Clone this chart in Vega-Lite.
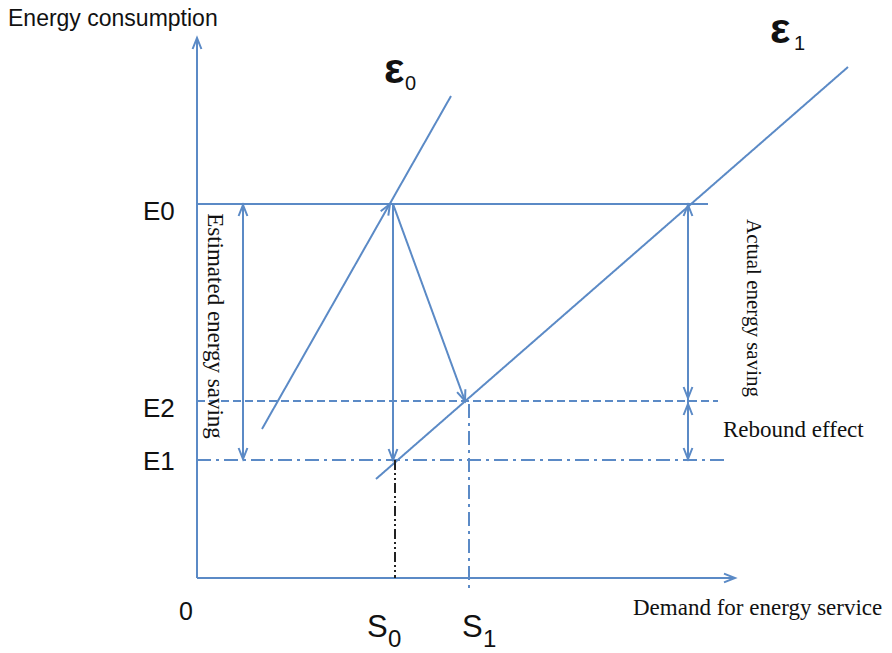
{
  "$schema": "https://vega.github.io/schema/vega-lite/v6.json",
  "width": 892,
  "height": 653,
  "autosize": {"type": "fit", "contains": "padding"},
  "padding": 0,
  "background": "white",
  "config": {"view": {"stroke": null}},
  "datasets": {
    "segs": [
      {"x": 0, "y": 0, "x2": 0, "y2": 540, "dash": "solid", "ink": "blue"},
      {"x": 0, "y": 0, "x2": 538, "y2": 0, "dash": "solid", "ink": "blue"},
      {"x": 0, "y": 374, "x2": 511, "y2": 374, "dash": "solid", "ink": "blue"},
      {"x": 0, "y": 177, "x2": 521, "y2": 177, "dash": "dash", "ink": "blue"},
      {"x": 0, "y": 118, "x2": 531, "y2": 118, "dash": "dashdot", "ink": "blue"},
      {"x": 65, "y": 149, "x2": 254, "y2": 482, "dash": "solid", "ink": "blue"},
      {"x": 179, "y": 99, "x2": 651, "y2": 511, "dash": "solid", "ink": "blue"},
      {"x": 196, "y": 374, "x2": 196, "y2": 118, "dash": "solid", "ink": "blue"},
      {"x": 196, "y": 374, "x2": 268, "y2": 177, "dash": "solid", "ink": "blue"},
      {"x": 46, "y": 373, "x2": 46, "y2": 119, "dash": "solid", "ink": "blue"},
      {"x": 491, "y": 373, "x2": 491, "y2": 119, "dash": "solid", "ink": "blue"},
      {"x": 198, "y": 118, "x2": 198, "y2": 0, "dash": "dashdotdot", "ink": "black"},
      {"x": 272, "y": 174, "x2": 272, "y2": -11, "dash": "dashdot", "ink": "blue"}
    ],
    "heads": [
      {"x": 0, "y": 540, "ang": 0},
      {"x": 538, "y": 0, "ang": 90},
      {"x": 196, "y": 118, "ang": 180},
      {"x": 268, "y": 177, "ang": 160},
      {"x": 46, "y": 373, "ang": 0},
      {"x": 46, "y": 119, "ang": 180},
      {"x": 491, "y": 373, "ang": 0},
      {"x": 491, "y": 180, "ang": 180},
      {"x": 491, "y": 174, "ang": 0},
      {"x": 491, "y": 119, "ang": 180},
      {"x": 193, "y": 374, "ang": 30}
    ],
    "title": [{"x": -189, "y": 552, "label": "Energy consumption"}],
    "elabels": [
      {"x": -54, "y": 358, "label": "E0"},
      {"x": -54, "y": 161, "label": "E2"},
      {"x": -54, "y": 108, "label": "E1"}
    ],
    "origin": [{"x": -11, "y": -42, "label": "0"}],
    "sletters": [
      {"x": 170, "y": -59, "label": "S"},
      {"x": 265, "y": -59, "label": "S"}
    ],
    "ssubs": [
      {"x": 191, "y": -69, "label": "0"},
      {"x": 286, "y": -69, "label": "1"}
    ],
    "eps": [
      {"x": 187, "y": 495, "label": "ε"},
      {"x": 573, "y": 535, "label": "ε"}
    ],
    "epssubs": [
      {"x": 208, "y": 488, "label": "0"},
      {"x": 597, "y": 528, "label": "1"}
    ],
    "serif": [
      {"x": 526, "y": 141, "label": "Rebound effect"},
      {"x": 436, "y": -37, "label": "Demand for energy service"}
    ],
    "rotA": [{"x": 18, "y": 252, "label": "Estimated energy saving"}],
    "rotB": [{"x": 556, "y": 270, "label": "Actual energy saving"}]
  },
  "encoding": {
    "x": {"field": "x", "type": "quantitative", "scale": {"domain": [-197, 695], "nice": false, "zero": false}, "axis": null},
    "y": {"field": "y", "type": "quantitative", "scale": {"domain": [-75, 578], "nice": false, "zero": false}, "axis": null}
  },
  "layer": [
    {
      "data": {"name": "segs"},
      "mark": {"type": "rule", "strokeWidth": 2},
      "encoding": {
        "x2": {"field": "x2"},
        "y2": {"field": "y2"},
        "strokeDash": {"field": "dash", "type": "nominal", "scale": {"domain": ["solid", "dash", "dashdot", "dashdotdot"], "range": [[1, 0], [8, 4], [14, 5, 3, 5], [10, 3, 2, 3, 2, 3]]}, "legend": null},
        "color": {"field": "ink", "type": "nominal", "scale": {"domain": ["blue", "black"], "range": ["#5b8ac6", "#222222"]}, "legend": null}
      }
    },
    {
      "data": {"name": "heads"},
      "mark": {"type": "point", "shape": "M-0.4,1L0,0L0.4,1", "filled": false, "size": 484, "strokeWidth": 2, "color": "#5b8ac6", "opacity": 1},
      "encoding": {
        "angle": {"field": "ang", "type": "quantitative", "scale": null}
      }
    },
    {
      "data": {"name": "title"},
      "mark": {"type": "text", "font": "Liberation Sans", "fontSize": 23, "align": "left", "baseline": "alphabetic", "color": "#111"},
      "encoding": {"text": {"field": "label"}}
    },
    {
      "data": {"name": "elabels"},
      "mark": {"type": "text", "font": "Liberation Sans", "fontSize": 26, "align": "left", "baseline": "alphabetic", "color": "#111"},
      "encoding": {"text": {"field": "label"}}
    },
    {
      "data": {"name": "origin"},
      "mark": {"type": "text", "font": "Liberation Sans", "fontSize": 25, "align": "center", "baseline": "alphabetic", "color": "#111"},
      "encoding": {"text": {"field": "label"}}
    },
    {
      "data": {"name": "sletters"},
      "mark": {"type": "text", "font": "Liberation Sans", "fontSize": 31, "align": "left", "baseline": "alphabetic", "color": "#111"},
      "encoding": {"text": {"field": "label"}}
    },
    {
      "data": {"name": "ssubs"},
      "mark": {"type": "text", "font": "Liberation Sans", "fontSize": 24, "align": "left", "baseline": "alphabetic", "color": "#111"},
      "encoding": {"text": {"field": "label"}}
    },
    {
      "data": {"name": "eps"},
      "mark": {"type": "text", "font": "Liberation Sans", "fontSize": 43, "fontWeight": "bold", "align": "left", "baseline": "alphabetic", "color": "#111"},
      "encoding": {"text": {"field": "label"}}
    },
    {
      "data": {"name": "epssubs"},
      "mark": {"type": "text", "font": "Liberation Sans", "fontSize": 20, "align": "left", "baseline": "alphabetic", "color": "#111"},
      "encoding": {"text": {"field": "label"}}
    },
    {
      "data": {"name": "serif"},
      "mark": {"type": "text", "font": "Liberation Serif", "fontSize": 23, "align": "left", "baseline": "alphabetic", "color": "#111"},
      "encoding": {"text": {"field": "label"}}
    },
    {
      "data": {"name": "rotA"},
      "mark": {"type": "text", "font": "Liberation Serif", "fontSize": 23, "align": "center", "baseline": "middle", "angle": 90, "color": "#111"},
      "encoding": {"text": {"field": "label"}}
    },
    {
      "data": {"name": "rotB"},
      "mark": {"type": "text", "font": "Liberation Serif", "fontSize": 21, "align": "center", "baseline": "middle", "angle": 90, "color": "#111"},
      "encoding": {"text": {"field": "label"}}
    }
  ]
}
